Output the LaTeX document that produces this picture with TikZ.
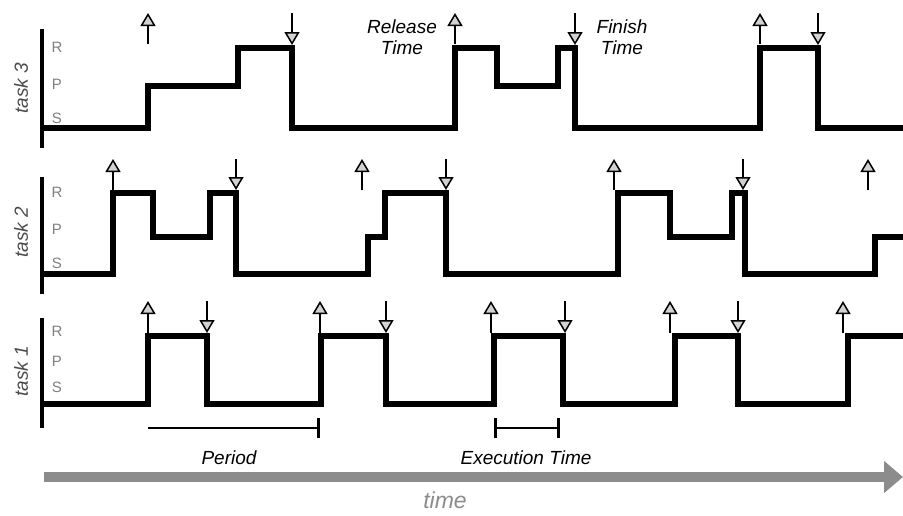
\documentclass[tikz,border=0pt]{standalone}
\usepackage{fontspec}
\setmainfont{Liberation Sans}
\usepackage{tikz}
\usetikzlibrary{arrows.meta,positioning}

\begin{document}
\begin{tikzpicture}[x=1pt,y=-1pt,
  trace/.style={line width=6pt, line join=miter},
  axis/.style={line width=4.5pt},
  release/.style={line width=1.5pt, -{Triangle[width=15pt,length=13pt,fill=gray!35]}},
  finish/.style={line width=1.5pt, -{Triangle[width=15pt,length=13pt,fill=gray!35]}},
  level/.style={text=gray, font=\fontsize{15}{15}\selectfont, inner sep=0pt},
  tasklbl/.style={text=gray!60!black, rotate=90, font=\fontsize{19}{19}\selectfont\itshape, inner sep=0pt},
  comment/.style={text centered, font=\fontsize{19}{21}\selectfont\itshape, inner sep=0pt, align=center},
  span/.style={line width=1.5pt},
  timeline/.style={line width=10pt, draw=gray!90, -{Triangle[length=19pt,width=31pt]}}]
\fill[white] (0,0) rectangle (903,515);
\useasboundingbox (0,0) rectangle (903,515);

% axes and labels
\foreach \t/\a/\b in {3/29/148, 2/177/294, 1/318/428}
  \draw[axis] (42,\a) -- (42,\b);
\foreach \t/\y in {3/88, 2/232, 1/371}
  \node[tasklbl] (task\t) at (21,\y) {task \t};
\foreach \t/\r/\p/\s in {3/47/84/118, 2/192/229/263, 1/331/361/387} {
  \node[level] (R\t) at (57,\r) {R};
  \node[level] (P\t) at (57,\p) {P};
  \node[level] (S\t) at (57,\s) {S};
}

% task 3
\draw[trace] (40,128) -- (148,128) -- (148,86) -- (238,86) -- (238,48) -- (292,48) -- (292,128)
  -- (455,128) -- (455,48) -- (497,48) -- (497,86) -- (558,86) -- (558,48) -- (575,48) -- (575,128)
  -- (760,128) -- (760,48) -- (818,48) -- (818,128) -- (910,128);
\foreach \x in {148,455,760} \draw[release] (\x,44) -- (\x,13);
\foreach \x in {292,575,818} \draw[finish] (\x,13) -- (\x,45);

% task 2
\draw[trace] (40,274) -- (113,274) -- (113,193) -- (153,193) -- (153,237) -- (210,237) -- (210,193)
  -- (236,193) -- (236,274) -- (368,274) -- (368,237) -- (385,237) -- (385,193) -- (446,193)
  -- (446,274) -- (618,274) -- (618,193) -- (670,193) -- (670,237) -- (732,237) -- (732,193)
  -- (745,193) -- (745,274) -- (875,274) -- (875,237) -- (910,237);
\foreach \x in {113,362,614,868} \draw[release] (\x,190) -- (\x,159);
\foreach \x in {236,446,743} \draw[finish] (\x,159) -- (\x,190);

% task 1
\draw[trace] (40,404) -- (148,404) -- (148,336) -- (207,336) -- (207,404) -- (321,404) -- (321,336)
  -- (386,336) -- (386,404) -- (494,404) -- (494,336) -- (563,336) -- (563,404) -- (675,404)
  -- (675,336) -- (738,336) -- (738,404) -- (848,404) -- (848,336) -- (910,336);
\foreach \x in {148,320,491,670,843} \draw[release] (\x,333) -- (\x,301);
\foreach \x in {207,386,565,738} \draw[finish] (\x,301) -- (\x,333);

% comments
\node[comment] (rel) at (402,37) {Release\\Time};
\node[comment] (fin) at (622,37) {Finish\\Time};

\coordinate (perA) at (148,428);
\coordinate (perB) at (320,428);
\draw[span, -{Bar[width=20pt,line width=3pt]}] (perA) -- (perB);
\node[comment] (period) at (229,458) {Period};

\coordinate (exeA) at (494,428);
\coordinate (exeB) at (560,428);
\draw[span, {Bar[width=20pt,line width=3pt]}-{Bar[width=20pt,line width=3pt]}] (exeA) -- (exeB);
\node[comment] (exe) at (526,458) {Execution Time};

% time axis
\coordinate (t0) at (44,477);
\coordinate (t1) at (903,477);
\draw[timeline] (t0) -- (t1);
\node[comment, text=gray!90, font=\fontsize{23}{23}\selectfont\itshape] (time) at (445,500) {time};
\end{tikzpicture}
\end{document}
